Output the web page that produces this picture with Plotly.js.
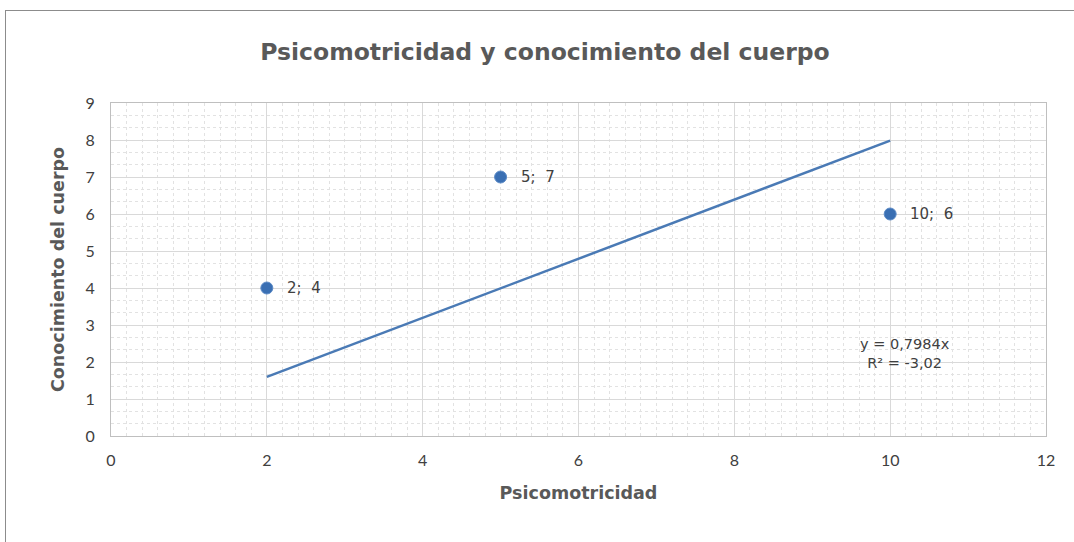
<!DOCTYPE html>
<html><head><meta charset="utf-8">
<script src="https://cdn.plot.ly/plotly-3.0.1.min.js"></script>
<style>
html,body{margin:0;padding:0;background:#fff;overflow:hidden}
#chart{width:1074px;height:542px;position:absolute;left:0;top:0}
#frame{position:absolute;left:5px;top:10px;width:1100px;height:600px;border-left:1px solid #8c8c8c;border-top:1px solid #8c8c8c;pointer-events:none}
</style></head>
<body>
<div id="chart"></div>
<div id="frame"></div>
<script>
const xVals = [2, 5, 10];
const yVals = [4, 7, 6];
const pointLabels = ["2;&nbsp; 4", "5;&nbsp; 7", "10;&nbsp; 6"];
const slope = 0.7984;
const trendX = [2, 10];
const equationText = "y = 0,7984x<br>R² = -3,02";
const xTicks = [0, 2, 4, 6, 8, 10, 12];
const yTicks = [0, 1, 2, 3, 4, 5, 6, 7, 8, 9];

const font = "'DejaVu Sans', Verdana, sans-serif";
const tickFont = "Lato, 'Open Sans', sans-serif";
const trendY = trendX.map(v => v * slope);

const traces = [
  {x: trendX, y: trendY, mode: 'lines', line: {color: '#4a7ab5', width: 2.5}, hoverinfo: 'skip'},
  {x: xVals, y: yVals, mode: 'markers', marker: {color: '#3a6fb3', size: 12, line: {color: '#5b8ac6', width: 1}}}
];

const annotations = xVals.map((v, i) => ({
  x: v, y: yVals[i], xref: 'x', yref: 'y', text: pointLabels[i], showarrow: false,
  xanchor: 'left', yanchor: 'middle', xshift: 18, font: {family: font, size: 15, color: '#404040'}
}));
annotations.push({
  x: 10.19, y: 2.24, xref: 'x', yref: 'y', text: equationText, showarrow: false,
  xanchor: 'center', yanchor: 'middle', align: 'center', font: {family: font, size: 14.5, color: '#404040'}
});

const layout = {
  width: 1074, height: 542,
  margin: {l: 111, r: 28, t: 103, b: 106},
  paper_bgcolor: 'rgba(0,0,0,0)', plot_bgcolor: '#fff',
  showlegend: false,
  title: {text: 'Psicomotricidad y conocimiento del cuerpo', x: 545/1074, xref: 'container', xanchor: 'center',
    y: 1 - 52/542, yref: 'container', yanchor: 'middle', font: {family: font, size: 23.5, color: '#595959', weight: 'bold'}},
  xaxis: {range: [0, 12], tickvals: xTicks, ticks: '', showline: true, linecolor: '#bfbfbf', mirror: true,
    gridcolor: '#d9d9d9', zeroline: false, fixedrange: true,
    minor: {dtick: 0.2, showgrid: true, gridcolor: '#e2e2e2', griddash: 'dot', gridwidth: 1},
    tickfont: {family: tickFont, size: 16, color: '#404040'}, ticklabelstandoff: 10,
    title: {text: 'Psicomotricidad', standoff: 18, font: {family: font, size: 17.5, color: '#595959', weight: 'bold'}}},
  yaxis: {range: [0, 9], tickvals: yTicks, ticks: '', showline: true, linecolor: '#bfbfbf', mirror: true,
    gridcolor: '#d9d9d9', zeroline: false, fixedrange: true,
    minor: {dtick: 1/3, showgrid: true, gridcolor: '#e2e2e2', griddash: 'dot', gridwidth: 1},
    tickfont: {family: tickFont, size: 16, color: '#404040'}, ticklabelstandoff: 12,
    title: {text: 'Conocimiento del cuerpo', standoff: 16, font: {family: font, size: 17.5, color: '#595959', weight: 'bold'}}},
  annotations: annotations
};

Plotly.newPlot('chart', traces, layout, {displayModeBar: false, staticPlot: true});
</script>
</body></html>
